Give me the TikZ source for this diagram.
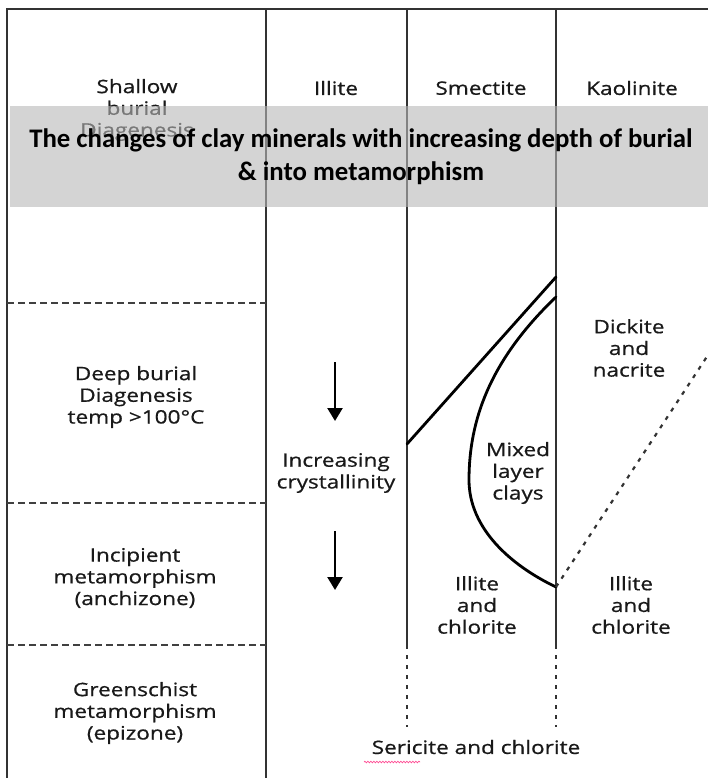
\documentclass[tikz,border=0pt]{standalone}
\usepackage{fontspec}
\setmainfont{Open Sans}[FakeStretch=1.22,FakeBold=0.7]
\newfontfamily\titlefont{Carlito}
\usetikzlibrary{arrows.meta,positioning,calc,decorations.pathmorphing}

\begin{document}
\begin{tikzpicture}[x=1pt,y=-1pt,>={Triangle[length=13pt,width=15pt]},
  font=\fontsize{18.5}{21.7}\selectfont,
  lbl/.style={align=center,inner sep=0pt,text=black!90},
  colline/.style={line width=1.8pt,draw=black!80},
  zone/.style={line width=1.3pt,draw=black!75,dash pattern=on 7pt off 4pt},
  ext/.style={line width=2.2pt,draw=black!80,dash pattern=on 4pt off 6pt},
  bound/.style={line width=2.8pt,line cap=round},
  band/.style={fill=black!28,fill opacity=0.6,draw=none},
  title/.style={align=center,inner sep=0pt,font=\titlefont\bfseries\fontsize{26.8}{33}\selectfont}]

  \useasboundingbox (0,0) rectangle (708,778);

  % table frame and columns
  \draw[colline] (7,778) -- (7,9) -- (708,9);
  \draw[colline] (266,9) -- (266,778);
  \draw[colline] (407,9) -- (407,645);
  \draw[colline] (556,9) -- (556,645);
  \draw[ext] (407,645) -- (407,727);
  \draw[ext] (556,645) -- (556,727);
  \foreach \y in {303,503,645}
    \draw[zone] (7,\y) -- (266,\y);

  % headers
  \node[lbl] (shallow) at (137,110) {Shallow\\burial\\Diagenesis};
  \node[lbl] (illite) at (336,88) {Illite};
  \node[lbl] (smectite) at (481,88) {Smectite};
  \node[lbl] (kaolinite) at (632,88) {Kaolinite};

  % depth zones
  \node[lbl] (deep) at (136,397) {Deep burial\\Diagenesis\\temp >100\textdegree C};
  \node[lbl] (incip) at (135,578) {Incipient\\metamorphism\\(anchizone)};
  \node[lbl] (green) at (135,713) {Greenschist\\metamorphism\\(epizone)};

  % illite column
  \node[lbl] (cryst) at (336,473) {Increasing\\crystallinity};
  \coordinate (a1s) at (335,362);
  \coordinate (a1e) at (335,421);
  \coordinate (a2s) at (335,531);
  \coordinate (a2e) at (335,590);
  \draw[->,line width=2.4pt] (a1s) -- (a1e);
  \draw[->,line width=2.4pt] (a2s) -- (a2e);

  % smectite column
  \coordinate (sl) at (407,444);
  \coordinate (sr) at (556,277);
  \coordinate (ct) at (556,297);
  \coordinate (cb) at (556,587);
  \draw[bound] (sl) -- (sr);
  \draw[bound] (ct) .. controls (490,360) and (469,420) .. (469,480)
    .. controls (469,528) and (510,565) .. (cb);
  \node[lbl] (mixed) at (518,473) {Mixed\\layer\\clays};
  \node[lbl] (ic1) at (477,605) {Illite\\and\\chlorite};

  % kaolinite column
  \coordinate (kd) at (708,355);
  \draw[ext] (cb) -- (kd);
  \node[lbl] (dick) at (629,348) {Dickite\\and\\nacrite};
  \node[lbl] (ic2) at (631,605) {Illite\\and\\chlorite};

  \node[lbl] (seric) at (476,747) {Sericite and chlorite};
  \coordinate (sq1) at (364,762);
  \coordinate (sq2) at (420,762);
  \draw[red!60!magenta!70,line width=0.7pt,decorate,
    decoration={snake,amplitude=0.8pt,segment length=3pt}] (sq1) -- (sq2);

  % caption band
  \fill[band] (10,106) rectangle (708,207);
  \node[title] (caption) at (361,157)
    {The changes of clay minerals with increasing depth of burial\\\& into metamorphism};
\end{tikzpicture}
\end{document}
